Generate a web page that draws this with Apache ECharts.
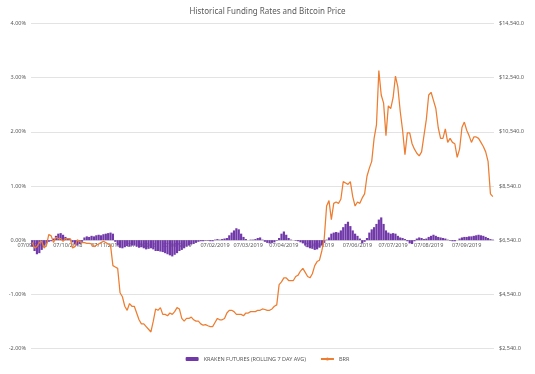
<!DOCTYPE html>
<html>
<head>
<meta charset="utf-8">
<script src="https://cdn.jsdelivr.net/npm/echarts@6/dist/echarts.min.js"></script>
<style>
  html, body { margin: 0; padding: 0; background: #fff; }
  #chart { width: 535px; height: 374px; }
</style>
</head>
<body>
<div id="chart"></div>
<script>
// Sampled every 2 days, starting 07/09/2018
const startDate = [2018, 9, 7];
const stepDays = 2;

// Kraken futures funding rate, rolling 7-day average (%)
const fundingRate = [
  -0.12, -0.2, -0.26, -0.24, -0.18, -0.1, -0.06, -0.03, -0.02, 0.03,
  0.08, 0.12, 0.13, 0.1, 0.06, 0.03, 0.02, -0.04, -0.08, -0.1,
  -0.07, -0.03, 0.05, 0.07, 0.06, 0.08, 0.07, 0.09, 0.1, 0.09,
  0.11, 0.12, 0.13, 0.14, 0.12, -0.03, -0.1, -0.14, -0.15, -0.13,
  -0.11, -0.12, -0.1, -0.1, -0.12, -0.14, -0.13, -0.15, -0.17, -0.16,
  -0.15, -0.17, -0.2, -0.2, -0.21, -0.22, -0.24, -0.26, -0.28, -0.3,
  -0.27, -0.24, -0.2, -0.18, -0.15, -0.12, -0.1, -0.08, -0.07, -0.05,
  -0.03, -0.02, -0.02, -0.01, -0.01, -0.02, -0.02, 0.01, 0.02, 0.01,
  0.02, 0.03, 0.04, 0.09, 0.14, 0.18, 0.22, 0.2, 0.12, 0.06,
  0.02, 0.0, 0.01, 0.01, 0.02, 0.04, 0.05, 0.01, -0.03, -0.05,
  -0.06, -0.05, -0.04, -0.01, 0.04, 0.12, 0.16, 0.1, 0.04, 0.01,
  0.0, -0.01, -0.02, -0.04, -0.06, -0.1, -0.13, -0.15, -0.16, -0.18,
  -0.17, -0.14, -0.1, -0.05, 0.01, 0.05, 0.12, 0.14, 0.15, 0.14,
  0.18, 0.24, 0.3, 0.34, 0.26, 0.18, 0.12, 0.08, 0.03, -0.06,
  -0.03, 0.04, 0.14, 0.2, 0.24, 0.3, 0.38, 0.42, 0.3, 0.18,
  0.14, 0.12, 0.13, 0.12, 0.08, 0.05, 0.04, 0.02, -0.02, -0.06,
  -0.07, -0.02, 0.03, 0.05, 0.04, 0.02, 0.03, 0.06, 0.08, 0.1,
  0.08, 0.06, 0.05, 0.04, 0.03, 0.01, -0.01, -0.02, -0.02, 0.0,
  0.03, 0.05, 0.06, 0.06, 0.07, 0.07, 0.08, 0.09, 0.1, 0.09,
  0.08, 0.06, 0.04, 0.02, 0.01
];

// Bitcoin price (BRR, USD)
const btcPrice = [
  6450, 6250, 6300, 6450, 6500, 6250, 6350, 6750, 6700, 6450,
  6650, 6600, 6600, 6500, 6600, 6600, 6600, 6250, 6300, 6550,
  6500, 6450, 6450, 6420, 6420, 6400, 6300, 6350, 6400, 6450,
  6500, 6450, 6400, 6350, 5600, 5550, 5500, 4600, 4450, 4100,
  3950, 4200, 4100, 4100, 3850, 3600, 3450, 3450, 3350, 3250,
  3150, 3550, 4000, 3950, 4050, 3800, 3800, 3750, 3850, 3800,
  3900, 4050, 4000, 3650, 3550, 3650, 3650, 3700, 3600, 3550,
  3550, 3450, 3400, 3420, 3380, 3350, 3350, 3500, 3650, 3600,
  3600, 3650, 3850, 3950, 3950, 3900, 3800, 3800, 3800, 3750,
  3850, 3850, 3900, 3900, 3900, 3950, 3950, 4000, 3980, 3950,
  3950, 4000, 4100, 4150, 4900, 5000, 5150, 5150, 5050, 5050,
  5050, 5200, 5250, 5400, 5500, 5350, 5200, 5150, 5300, 5600,
  5750, 5800, 6150, 6600, 7800, 8000, 7300, 7900, 7950, 7900,
  8050, 8700, 8650, 8600, 8700, 8150, 7800, 7950, 7900, 8100,
  8250, 8900, 9200, 9450, 10300, 10800, 12800, 11900, 11600, 10400,
  11500, 11400, 11800, 12600, 12200, 11300, 10600, 9700, 10500, 10500,
  10100, 9900, 9750, 9650, 9800, 10400, 11000, 11900, 12000, 11700,
  11400, 10700, 10300, 10300, 10650, 10150, 10300, 10150, 10100, 9600,
  9900, 10700, 10900, 10600, 10400, 10150, 10350, 10350, 10300, 10150,
  10000, 9800, 9450, 8250, 8150
];

const seriesNames = ['KRAKEN FUTURES (ROLLING 7 DAY AVG)', 'BRR'];
const leftTicks = { min: -2, max: 4, interval: 1 };
const rightTicks = { min: 2540, max: 14540, interval: 2000 };

const pad = n => (n < 10 ? '0' : '') + n;
const startMs = Date.UTC(startDate[0], startDate[1] - 1, startDate[2]);
const categories = fundingRate.map((_, i) => {
  const d = new Date(startMs + i * stepDays * 86400000);
  return pad(d.getUTCDate()) + '/' + pad(d.getUTCMonth() + 1) + '/' + d.getUTCFullYear();
});

const textColor = '#595959';
const font = 'Noto Sans';

// grid geometry
const gridTop = 23.5, gridBottom = 25.5, chartH = 374;
const plotH = chartH - gridTop - gridBottom;
// move the category axis up to the 0.00% line of the left axis
const zeroOffset = -plotH * (0 - leftTicks.min) / (leftTicks.max - leftTicks.min);

const chart = echarts.init(document.getElementById('chart'), null, { renderer: 'canvas' });
chart.setOption({
  backgroundColor: '#ffffff',
  animation: false,
  title: {
    text: 'Historical Funding Rates and Bitcoin Price',
    left: 'center',
    top: 3,
    textStyle: { fontSize: 8, fontWeight: 'normal', color: textColor, fontFamily: font }
  },
  legend: {
    bottom: 7,
    left: 'center',
    itemWidth: 13,
    itemHeight: 4,
    itemGap: 14,
    textStyle: { fontSize: 5.5, color: textColor, fontFamily: font },
    data: seriesNames
  },
  grid: { left: 31, right: 41, top: gridTop, bottom: gridBottom, containLabel: false },
  xAxis: {
    type: 'category',
    data: categories,
    boundaryGap: true,
    position: 'bottom',
    offset: zeroOffset,
    axisLine: { onZero: false, lineStyle: { color: '#d9d9d9', width: 0.75 } },
    axisTick: { show: false },
    axisLabel: {
      fontSize: 5.5,
      color: textColor,
      fontFamily: font,
      margin: 2,
      interval: (idx, val) => {
        const day = parseInt(val.slice(0, 2), 10);
        return day === 7 || day === 8;
      },
      formatter: val => '07' + val.slice(2)
    },
    splitLine: { show: false }
  },
  yAxis: [
    {
      type: 'value',
      min: leftTicks.min, max: leftTicks.max, interval: leftTicks.interval,
      axisLine: { show: false },
      axisTick: { show: false },
      axisLabel: { fontSize: 5.5, color: textColor, fontFamily: font, margin: 5,
        formatter: v => v.toFixed(2) + '%' },
      splitLine: { lineStyle: { color: '#d9d9d9', width: 0.75 } }
    },
    {
      type: 'value',
      min: rightTicks.min, max: rightTicks.max, interval: rightTicks.interval,
      axisLine: { show: false },
      axisTick: { show: false },
      axisLabel: { fontSize: 5.5, color: textColor, fontFamily: font, margin: 5,
        formatter: v => '$' + v.toLocaleString('en-US', { minimumFractionDigits: 1, maximumFractionDigits: 1 }) },
      splitLine: { show: false }
    }
  ],
  series: [
    {
      name: seriesNames[0],
      type: 'bar',
      yAxisIndex: 0,
      data: fundingRate,
      barCategoryGap: '8%',
      itemStyle: { color: '#7038a8' }
    },
    {
      name: seriesNames[1],
      type: 'line',
      yAxisIndex: 1,
      data: btcPrice,
      symbol: 'none',
      lineStyle: { color: '#ed7d31', width: 1.25 },
      itemStyle: { color: '#ed7d31' }
    }
  ]
});
</script>
</body>
</html>
